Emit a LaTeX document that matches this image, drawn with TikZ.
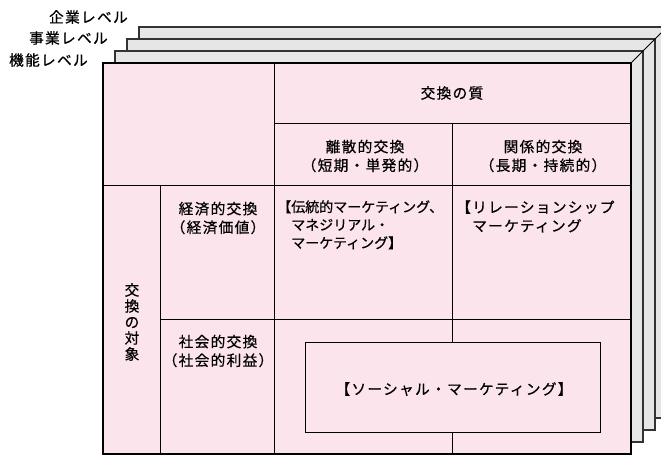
\documentclass[tikz,border=0pt]{standalone}
\usepackage{fontspec}
\setmainfont{Noto Sans CJK JP}
\definecolor{pinkfill}{HTML}{FCE4EC}
\definecolor{layergray}{HTML}{E6E6E6}
\begin{document}
\begin{tikzpicture}[x=0.75pt,y=-0.75pt,
  layer/.style={draw=black!80, fill=layergray, line width=0.8pt},
  front/.style={draw=black, fill=pinkfill, line width=0.9pt},
  grid/.style={draw=black, line width=0.7pt},
  lbl/.style={inner sep=0pt, font=\fontsize{11pt}{14pt}\selectfont\addfontfeatures{LetterSpace=9,FakeBold=0.6}, text=black},
  cell/.style={lbl, align=center},
  lefttxt/.style={lbl, align=left, anchor=north west}]
\useasboundingbox (0,0) rectangle (661,455);
\clip (0,0) rectangle (661,455);
% stacked layers
\draw[layer] (139,27) rectangle ++(528,391);
\draw[layer] (127,39) rectangle ++(528,391);
\draw[layer] (115,51) rectangle ++(528,391);
\coordinate (cornerback) at (667,27);
\coordinate (cornerfront) at (631,63);
\draw[black, line width=0.7pt] (cornerfront) -- (cornerback);
% front layer
\draw[front] (103,63) rectangle (631,454);
% grid lines
\draw[grid] (274,63) -- (274,454);
\draw[grid] (274,123) -- (631,123);
\draw[grid] (103,185) -- (631,185);
\draw[grid] (160,185) -- (160,454);
\draw[grid] (452,123) -- (452,454);
\draw[grid] (160,319) -- (631,319);
% inner box
\node[draw=black, fill=pinkfill, line width=0.7pt, minimum width=295*0.75pt, minimum height=90*0.75pt, inner sep=0pt] (social) at (452.5,387) {};
\node[lbl] (socialtxt) at (454,389) {【ソーシャル・マーケティング】};
% level labels
\node[lbl, anchor=east] (l1) at (128,17) {企業レベル};
\node[lbl, anchor=east] (l2) at (108,38) {事業レベル};
\node[lbl, anchor=east] (l3) at (88,60) {機能レベル};
% header texts
\node[cell] (quality) at (452,93) {交換の質};
\node[cell] (discrete) at (365,156) {離散的交換\\（短期・単発的）};
\node[cell] (relational) at (543,156) {関係的交換\\（長期・持続的）};
\node[cell] (economic) at (218,218) {経済的交換\\（経済価値）};
\node[cell] (socialex) at (218,351) {社会的交換\\（社会的利益）};
\node[cell, font=\fontsize{11pt}{12pt}\selectfont\addfontfeatures{FakeBold=0.6}] (object) at (132,322) {交\\換\\の\\対\\象};
\node[lefttxt, font=\fontsize{10.5pt}{13.5pt}\selectfont\addfontfeatures{FakeBold=0.6}] (trad) at (277,200) {【伝統的マーケティング、\\　マネジリアル・\\　マーケティング】};
\node[lefttxt] (rel) at (456,200) {【リレーションシップ\\　マーケティング};
\end{tikzpicture}
\end{document}
